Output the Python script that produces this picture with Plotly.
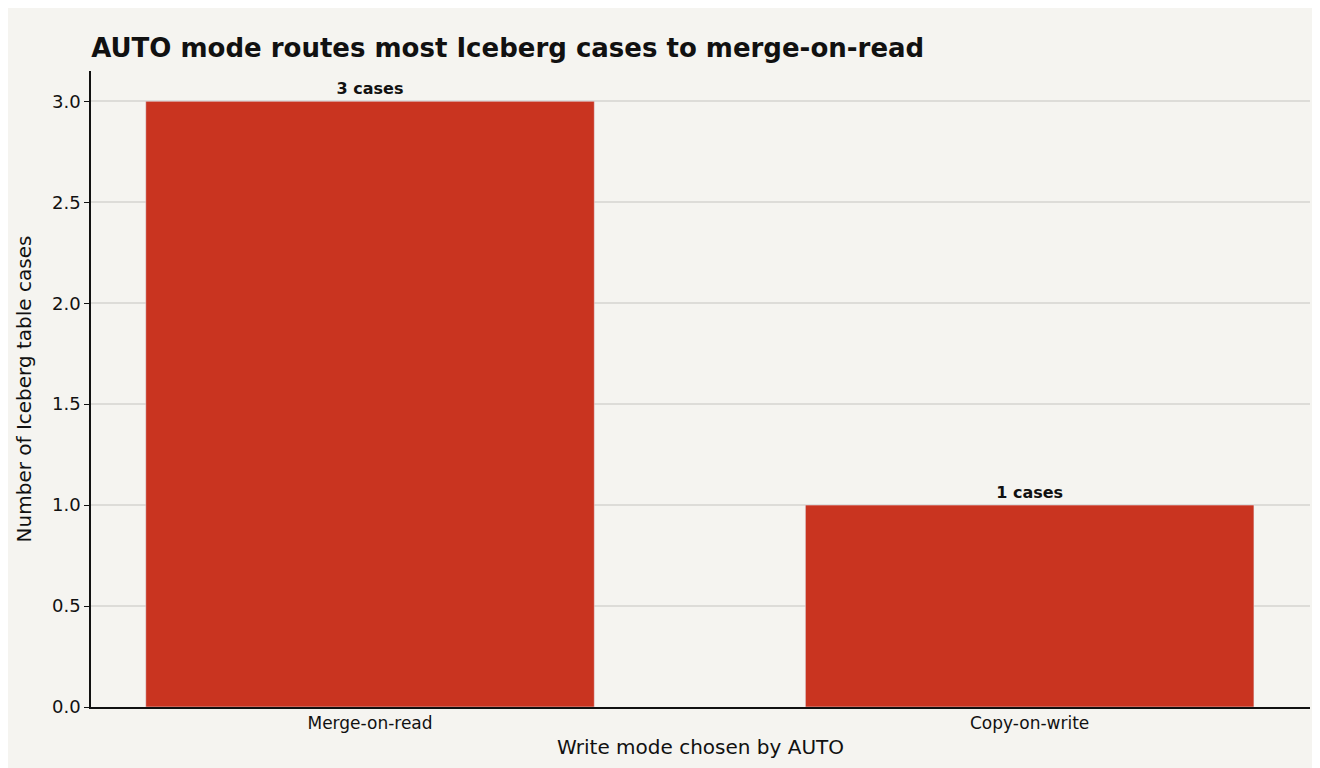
import plotly.graph_objects as go

modes = ["Merge-on-read", "Copy-on-write"]
cases = [3, 1]
labels = ["3 cases", "1 cases"]

fig = go.Figure(go.Bar(
    x=modes, y=cases, text=labels, textposition="outside",
    textfont=dict(size=16, color="#111111", family="DejaVu Sans"),
    marker_color="#c93420", width=0.68, cliponaxis=False,
))
fig.update_traces(texttemplate="<b>%{text}</b>")

fig.update_layout(
    width=1320, height=768,
    paper_bgcolor="#f5f4f0", plot_bgcolor="#f5f4f0",
    font=dict(family="DejaVu Sans", size=18, color="#111111"),
    title=dict(text="<b>AUTO mode routes most Iceberg cases to merge-on-read</b>",
               x=0.063, xanchor="left", y=0.96, font=dict(size=26)),
    margin=dict(l=83, r=18, t=63, b=69),
    showlegend=False,
)
fig.update_xaxes(title_text="Write mode chosen by AUTO", showline=True, linecolor="#111111",
                 linewidth=1.5, tickfont=dict(size=17), title_font=dict(size=20),
                 title_standoff=8, range=[-0.423, 1.425])
fig.update_yaxes(title_text="Number of Iceberg table cases", range=[0, 3.15], dtick=0.5,
                 tickformat=".1f", showgrid=True, gridcolor="#dddcd8", gridwidth=1.5,
                 zeroline=False, tickfont=dict(size=18), title_font=dict(size=20),
                 showline=True, linecolor="#111111", linewidth=1.5, ticks="outside",
                 ticklen=5, tickcolor="#111111")

fig.write_html("out.html")
